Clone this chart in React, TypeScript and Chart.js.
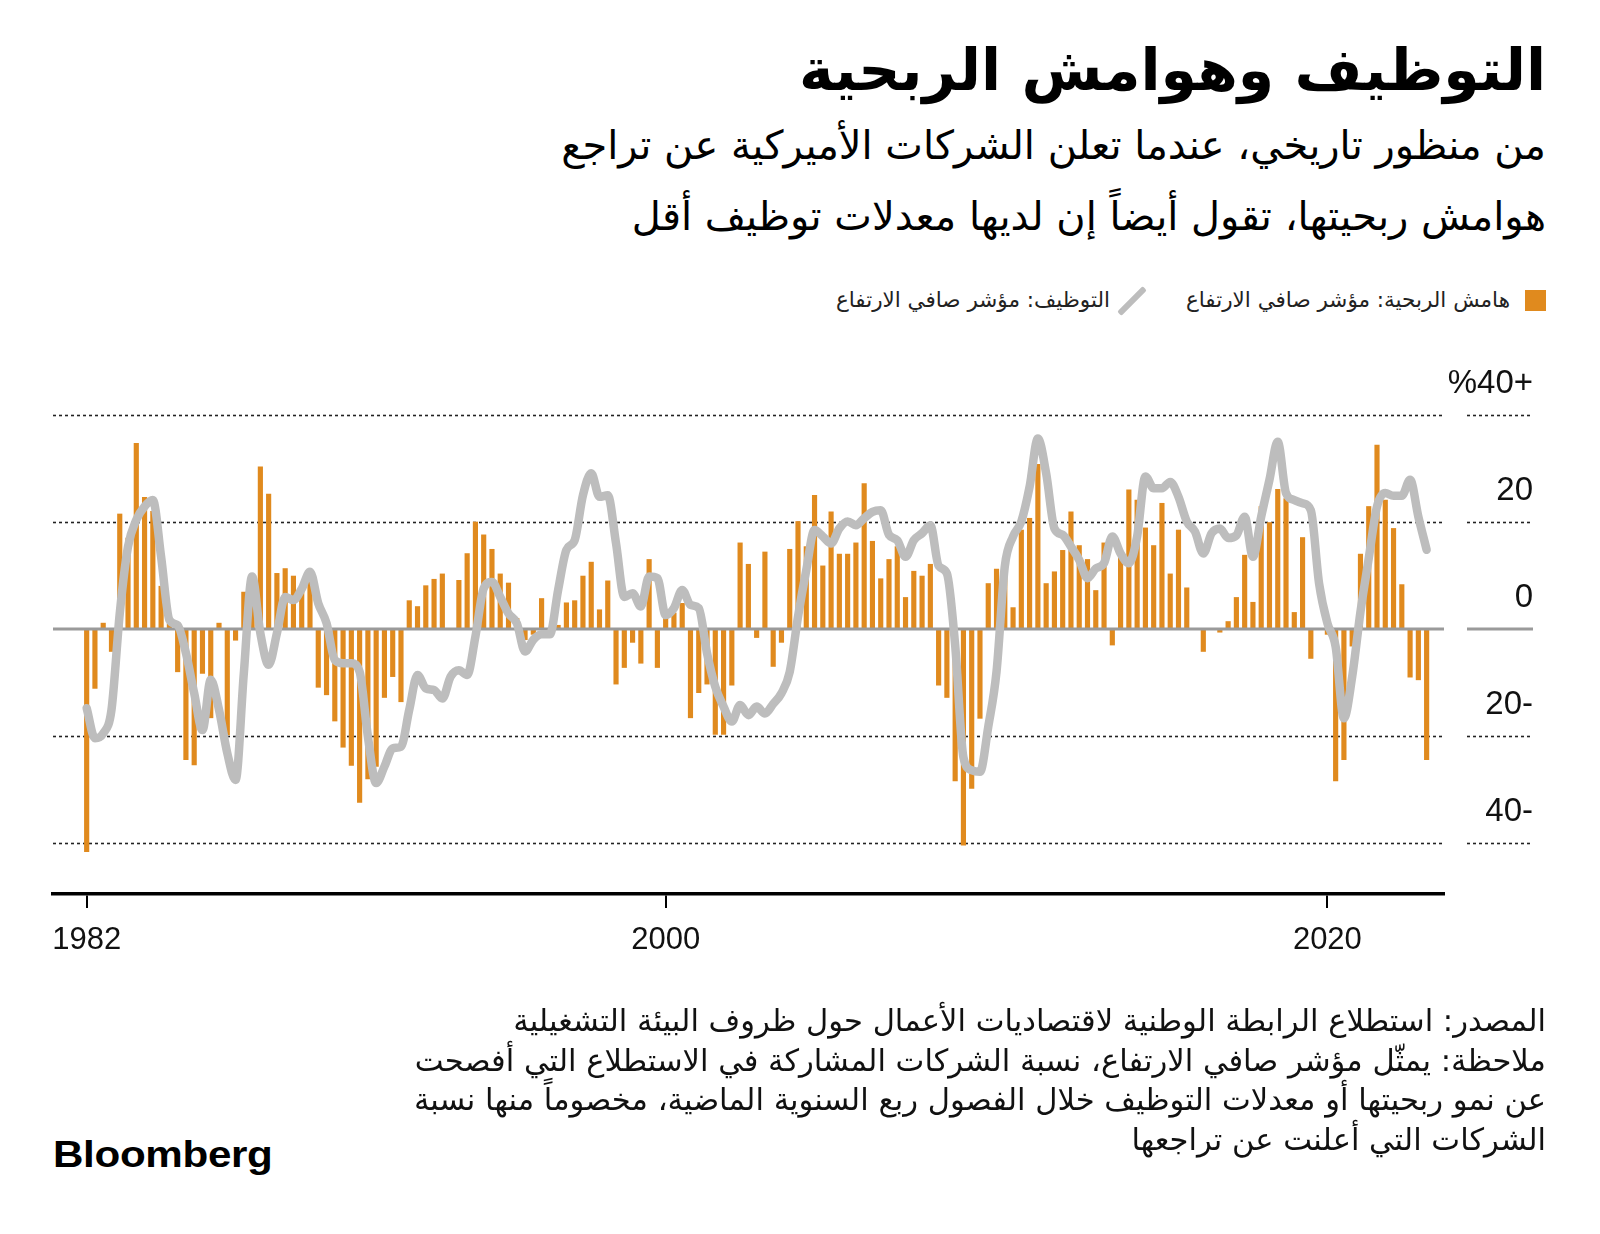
import React, { useEffect, useLayoutEffect, useRef } from 'react';
import { Chart, registerables } from 'chart.js';

Chart.register(...registerables);

// Quarterly net-rise indices, starting 1982 Q3
const profitMargin = [
  -41.6, -11.1, 1.1, -4.2, 21.5, 17, 34.7, 24.6, 22, 8,
  1, -8.0, -24.4, -25.4, -8.3, -16.6, 1.1, -19.8, -2.1, 6.9,
  7, 30.3, 25.2, 10.4, 11.3, 9.9, 7, 10, -10.9, -12.3,
  -17.2, -22.1, -25.5, -32.4, -28, -25.7, -12.8, -8.9, -13.6, 5.3,
  4.2, 8.1, 9.3, 10.3, 0, 9.1, 14.1, 20.0, 17.6, 14.9,
  10.3, 8.6, 2, -2, -1, 5.7, -1, 0.7, 4.9, 5.3,
  9.9, 12.5, 3.6, 9.0, -10.3, -7.2, -2.5, -6.4, 13.0, -7.2,
  2, 3, 4.8, -16.6, -11.9, -10.3, -19.7, -19.7, -10.5, 16.1,
  12.1, -1.6, 14.4, -7.0, -2.5, 14.9, 20.1, 15.4, 25.0, 11.8,
  21.9, 14.0, 14.0, 16.1, 27.2, 16.4, 9.4, 13.0, 15.4, 5.9,
  10.8, 9.9, 12.1, -10.5, -12.8, -28.4, -40.4, -29.8, -16.7, 8.5,
  11.2, 13.0, 4.0, 18.5, 20.7, 30.8, 8.5, 10.7, 14.7, 21.9,
  15.6, 13.0, 7.2, 16.1, -3.0, 14.5, 26.0, 24.1, 18.9, 15.6,
  23.5, 10.3, 18.5, 7.7, 0, -4.2, 0, -0.6, 1.4, 5.9,
  13.8, 5.0, 22.9, 19.9, 26.1, 24.4, 3.1, 17.1, -5.5, 0,
  -1, -28.4, -24.4, -3.2, 14.0, 22.9, 34.4, 24.1, 18.8, 8.3,
  -9.0, -9.5, -24.4,
];

const hiring = [
  -14.8, -20.4, -19.5, -15.1, 2.9, 15.4, 20.4, 22.9, 24.1, 13.5,
  1.7, 0.7, -4.5, -12.0, -18.9, -9.5, -15.1, -23.2, -28.2, -8.3,
  9.8, -0.8, -6.7, -0.8, 6.0, 5.4, 7.5, 10.7, 4.8, 1.1,
  -5.8, -6.4, -6.4, -8.0, -20.1, -28.8, -25.7, -22.3, -22.0, -15.1,
  -8.6, -11.1, -11.4, -13.0, -8.9, -7.7, -8.6, -1.4, 7.6, 8.8,
  6.0, 2.9, 1.1, -4.2, -2.0, -1.0, -1.0, 7.3, 14.8, 16.6,
  25.0, 29.1, 24.7, 25.0, 16.0, 6.0, 6.7, 4.2, 9.8, 9.5,
  2.6, 3.9, 7.3, 4.5, 3.9, -4.5, -10.8, -14.5, -17.3, -14.2,
  -16.1, -14.5, -15.8, -14.0, -12.0, -8.0, 2.3, 11.0, 18.5, 17.3,
  16.0, 18.8, 20.1, 19.4, 20.7, 21.9, 22.2, 17.6, 16.6, 13.5,
  16.6, 17.9, 19.4, 11.8, 10.4, -3.0, -24.0, -26.4, -26.7, -18.3,
  -8.0, 11.7, 17.3, 20.1, 26.6, 35.6, 29.1, 18.8, 17.6, 15.4,
  12.9, 9.5, 11.3, 12.3, 17.3, 14.1, 12.3, 17.3, 28.5, 26.3,
  26.3, 27.5, 24.7, 20.1, 18.2, 14.1, 17.9, 18.8, 17.0, 17.5,
  21.0, 13.5, 21.0, 27.9, 35.0, 25.4, 24.1, 23.5, 22.2, 8.5,
  1.1, -3.3, -16.7, -8.9, 3.2, 13.2, 22.9, 25.4, 24.9, 24.9,
  27.9, 21.0, 14.8,
];

const xTickIndex = [0, 70, 150];
const xTickLabels = ['1982', '2000', '2020'];
const yTickValues = [-40, -20, 0, 20, 40];
const yTickLabels = ['40-', '20-', '0', '20', '%40+'];

const TITLE = 'التوظيف وهوامش الربحية';
const SUBTITLE = [
  'من منظور تاريخي، عندما تعلن الشركات الأميركية عن تراجع',
  'هوامش ربحيتها، تقول أيضاً إن لديها معدلات توظيف أقل',
];
const LEGEND_PROFIT = 'هامش الربحية: مؤشر صافي الارتفاع';
const LEGEND_HIRING = 'التوظيف: مؤشر صافي الارتفاع';
const FOOTER = [
  'المصدر: استطلاع الرابطة الوطنية لاقتصاديات الأعمال حول ظروف البيئة التشغيلية',
  'ملاحظة: يمثّل مؤشر صافي الارتفاع، نسبة الشركات المشاركة في الاستطلاع التي أفصحت',
  'عن نمو ربحيتها أو معدلات التوظيف خلال الفصول ربع السنوية الماضية، مخصوماً منها نسبة',
  'الشركات التي أعلنت عن تراجعها',
];

const ORANGE = '#E08A1E';
const GRAY = '#BDBDBD';
const ARABIC_FONT = "'DejaVu Sans', 'Noto Sans', sans-serif";
const LATIN_FONT = "'Liberation Sans', Arial, sans-serif";

const gridPlugin = {
  id: 'customGrid',
  beforeDatasetsDraw(chart: any) {
    const { ctx, chartArea } = chart;
    const y = chart.scales.y;
    ctx.save();
    yTickValues.forEach((v) => {
      if (v === 0) return;
      const py = Math.round(y.getPixelForValue(v)) + 0.5;
      ctx.setLineDash([3, 3]);
      ctx.strokeStyle = '#222';
      ctx.lineWidth = 1.6;
      [[chartArea.left, chartArea.right], [y.right - 66, y.right]].forEach(([a, b]) => {
        ctx.beginPath();
        ctx.moveTo(a, py);
        ctx.lineTo(b, py);
        ctx.stroke();
      });
    });
    ctx.restore();
  },
  afterDatasetDraw(chart: any, args: any) {
    if (args.index !== 0) return;
    const { ctx, chartArea } = chart;
    const y = chart.scales.y;
    const py = y.getPixelForValue(0);
    ctx.save();
    ctx.setLineDash([]);
    ctx.strokeStyle = '#9A9A9A';
    ctx.lineWidth = 3;
    [[chartArea.left, chartArea.right], [y.right - 66, y.right]].forEach(([a, b]) => {
      ctx.beginPath();
      ctx.moveTo(a, py);
      ctx.lineTo(b, py);
      ctx.stroke();
    });
    ctx.restore();
  },
};

function RLine(props: { text: string; right: number; cy: number; size: number; weight?: number; target: number; group: string; color?: string }) {
  const { text, right, cy, size, weight = 400, target, group, color = '#000' } = props;
  return (
    <div style={{ position: 'absolute', right, top: cy - 60, height: 120, display: 'flex', alignItems: 'center', justifyContent: 'flex-end', whiteSpace: 'nowrap' }}>
      <span dir="rtl" data-fit={target} data-group={group} style={{ fontFamily: ARABIC_FONT, fontSize: size, fontWeight: weight, color, lineHeight: 1 }}>
        {text}
      </span>
    </div>
  );
}

export default function App() {
  const canvasRef = useRef<HTMLCanvasElement | null>(null);

  useLayoutEffect(() => {
    const run = () => {
      const spans = Array.from(document.querySelectorAll<HTMLElement>('span[data-fit]'));
      const groups: Record<string, HTMLElement[]> = {};
      spans.forEach((s) => {
        const g = s.dataset.group || 'x';
        (groups[g] = groups[g] || []).push(s);
      });
      Object.values(groups).forEach((list) => {
        const ratios = list.map((s) => Number(s.dataset.fit) / s.getBoundingClientRect().width);
        const r = ratios.reduce((a, b) => a + b, 0) / ratios.length;
        list.forEach((s) => {
          s.style.fontSize = parseFloat(s.style.fontSize) * r + 'px';
        });
      });
    };
    run();
    if ((document as any).fonts && (document as any).fonts.ready) {
      (document as any).fonts.ready.then(run);
    }
  }, []);

  useEffect(() => {
    if (!canvasRef.current) return;
    const chart = new Chart(canvasRef.current, {
      type: 'bar',
      data: {
        datasets: [
          {
            type: 'bar',
            label: LEGEND_PROFIT,
            data: profitMargin.map((v, i) => ({ x: i, y: v })),
            backgroundColor: ORANGE,
            barThickness: 4.5,
            order: 1,
          } as any,
          {
            type: 'line',
            label: LEGEND_HIRING,
            data: hiring.map((v, i) => ({ x: i, y: v })),
            borderColor: GRAY,
            borderWidth: 8.5,
            pointRadius: 0,
            cubicInterpolationMode: 'monotone',
            borderCapStyle: 'round',
            borderJoinStyle: 'round',
            order: 0,
          } as any,
        ],
      },
      options: {
        responsive: false,
        animation: false,
        layout: { padding: { left: 53, right: 67, top: 75, bottom: 16 } },
        plugins: { legend: { display: false }, tooltip: { enabled: false } },
        scales: {
          x: {
            type: 'linear',
            min: -4.07,
            max: 164.1,
            offset: false,
            afterBuildTicks: (s: any) => {
              s.ticks = xTickIndex.map((v) => ({ value: v }));
            },
            afterFit: (s: any) => {
              s.height = 70;
            },
            grid: { offset: false, drawOnChartArea: false, drawTicks: true, tickLength: 14, color: '#000', lineWidth: 2 },
            border: { display: true, color: '#000', width: 3.5 },
            ticks: {
              autoSkip: false,
              maxRotation: 0,
              padding: 14,
              color: '#111',
              font: { family: LATIN_FONT, size: 31 },
              callback: (v: any) => {
                const k = xTickIndex.indexOf(Number(v));
                return k >= 0 ? xTickLabels[k] : '';
              },
            },
          } as any,
          y: {
            type: 'linear',
            position: 'right',
            min: -49.53,
            max: 40,
            afterBuildTicks: (s: any) => {
              s.ticks = yTickValues.map((v) => ({ value: v }));
            },
            afterFit: (s: any) => {
              s.width = 89;
            },
            grid: { display: false, drawTicks: false },
            border: { display: false },
            ticks: {
              crossAlign: 'far',
              padding: 4,
              labelOffset: -31,
              color: '#111',
              font: { family: LATIN_FONT, size: 33 },
              callback: (v: any) => {
                const k = yTickValues.indexOf(Number(v));
                return k >= 0 ? yTickLabels[k] : '';
              },
            },
          } as any,
        },
      },
      plugins: [gridPlugin],
    });
    return () => chart.destroy();
  }, []);

  return (
    <div style={{ position: 'absolute', left: 0, top: 0, width: 1600, height: 1234, background: '#fff', overflow: 'hidden' }}>
      <RLine text={TITLE} right={54} cy={70} size={56} weight={700} target={747} group="title" />
      <RLine text={SUBTITLE[0]} right={54} cy={146} size={36} target={961} group="sub" />
      <RLine text={SUBTITLE[1]} right={54} cy={217} size={36} target={936} group="sub" />

      <div style={{ position: 'absolute', left: 1525, top: 290, width: 21, height: 21, background: ORANGE }} />
      <RLine text={LEGEND_PROFIT} right={90} cy={300} size={22} target={318} group="legend" color="#222" />
      <div style={{ position: 'absolute', left: 1129, top: 283, width: 6, height: 36, background: GRAY, transform: 'rotate(45deg)', borderRadius: 2 }} />
      <RLine text={LEGEND_HIRING} right={490} cy={300} size={22} target={279} group="legend" color="#222" />

      <canvas ref={canvasRef} width={1600} height={640} style={{ position: 'absolute', left: 0, top: 340, width: 1600, height: 640 }} />

      <RLine text={FOOTER[0]} right={54} cy={1021} size={26} target={1036} group="foot" color="#111" />
      <RLine text={FOOTER[1]} right={54} cy={1061} size={26} target={1140} group="foot" color="#111" />
      <RLine text={FOOTER[2]} right={54} cy={1100} size={26} target={1153} group="foot" color="#111" />
      <RLine text={FOOTER[3]} right={54} cy={1140} size={26} target={403} group="foot" color="#111" />

      <div style={{ position: 'absolute', left: 53, top: 1136, fontFamily: LATIN_FONT, fontWeight: 700, fontSize: 37, lineHeight: 1, letterSpacing: -0.3, color: '#000', transform: 'scaleX(1.14)', transformOrigin: 'left center' }}>
        Bloomberg
      </div>
    </div>
  );
}
